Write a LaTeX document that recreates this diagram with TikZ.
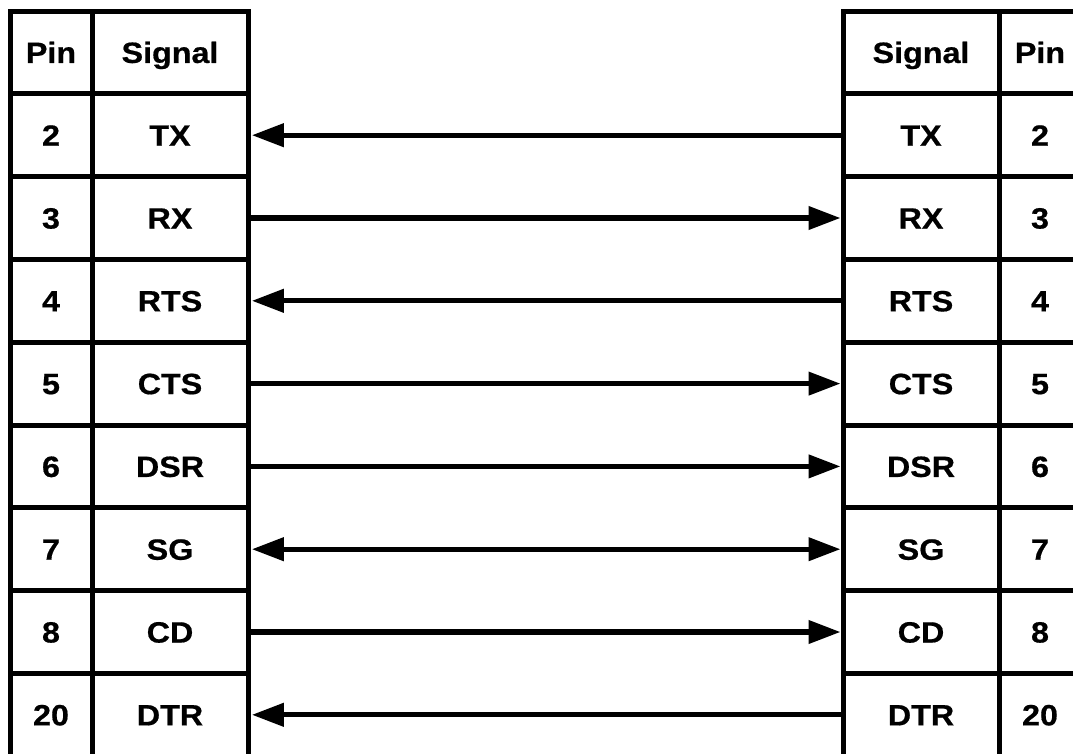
\documentclass[tikz,border=0pt]{standalone}
\usepackage{fontspec}
\newfontfamily\lab{Liberation Sans}[FakeStretch=1.1,FakeBold=0.6]
\usetikzlibrary{arrows.meta}
\tikzset{
  cell/.style={draw, line width=3.75pt, inner sep=0pt, minimum height=62.1pt,
    text height=15.8pt, text depth=0pt,
    font=\lab\bfseries\fontsize{22}{26}\selectfont},
  pincell/.style={cell, minimum width=61.5pt},
  sigcell/.style={cell, minimum width=117pt},
  conn/.style={line width=3.9pt, -{Triangle[length=24pt,width=17pt]}},
  connl/.style={line width=3.9pt, {Triangle[length=24pt,width=17pt]}-, shorten <=1pt},
  connb/.style={line width=3.9pt, {Triangle[length=24pt,width=17pt]}-{Triangle[length=24pt,width=17pt]}, shorten <=1pt}
}
\begin{document}
\begin{tikzpicture}[x=0.75pt,y=-0.75pt]
\useasboundingbox (0,0) rectangle (1073,753);
\clip (0,0) rectangle (1073,753);
\fill[white] (0,0) rectangle (1073,753);
\foreach \i/\p/\s in {0/Pin/Signal,1/2/TX,2/3/RX,3/4/RTS,4/5/CTS,5/6/DSR,6/7/SG,7/8/CD,8/20/DTR}{
  \node[pincell] (lp\i) at (51,{11+82.8*(\i+0.5)}) {\p};
  \node[sigcell] (ls\i) at (170,{11+82.8*(\i+0.5)}) {\s};
  \node[sigcell] (rs\i) at (921,{11+82.8*(\i+0.5)}) {\s};
  \node[pincell] (rp\i) at (1040,{11+82.8*(\i+0.5)}) {\p};
}
\draw[connl] (ls1.east) -- (rs1.west);
\draw[conn] (ls2.east) -- (rs2.west);
\draw[connl] (ls3.east) -- (rs3.west);
\draw[conn] (ls4.east) -- (rs4.west);
\draw[conn] (ls5.east) -- (rs5.west);
\draw[connb] (ls6.east) -- (rs6.west);
\draw[conn] (ls7.east) -- (rs7.west);
\draw[connl] (ls8.east) -- (rs8.west);
\end{tikzpicture}
\end{document}
